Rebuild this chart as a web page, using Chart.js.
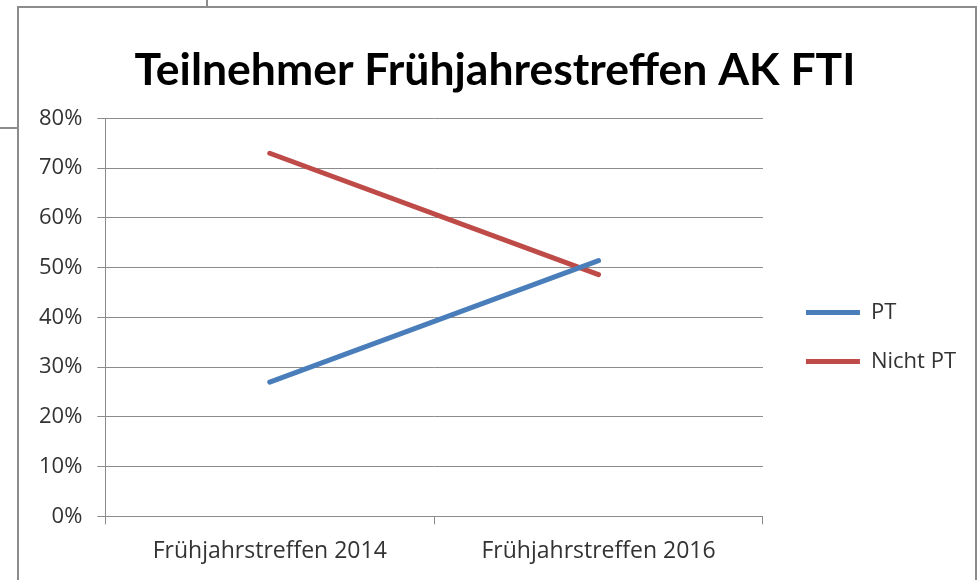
<!DOCTYPE html>
<html>
<head>
<meta charset="utf-8">
<script src="https://cdn.jsdelivr.net/npm/chart.js@4/dist/chart.umd.min.js"></script>
<style>
  html, body { margin: 0; padding: 0; background: #fff; }
  #wrap { position: relative; width: 978px; height: 580px; overflow: hidden; }
  #frame { position: absolute; left: 17px; top: 6px; width: 960px; height: 600px; border: 2px solid #8c8c8c; box-sizing: border-box; }
  #stubTop { position: absolute; left: 206px; top: 0; width: 2px; height: 7px; background: #8c8c8c; }
  #stubLeft { position: absolute; left: 0; top: 127px; width: 18px; height: 2px; background: #8c8c8c; }
  canvas { position: absolute; left: 0; top: 0; }
</style>
</head>
<body>
<div id="wrap">
  <div id="frame"></div>
  <div id="stubTop"></div>
  <div id="stubLeft"></div>
  <canvas id="chart" width="978" height="580"></canvas>
</div>
<script>
const categories = ["Frühjahrstreffen 2014", "Frühjahrstreffen 2016"];
const ptValues = [0.27, 0.514];
const nichtPtValues = [0.73, 0.486];
const seriesNames = ["PT", "Nicht PT"];

const gridColor = "#8c8c8c";
const textColor = "#333333";
const yFont = { family: "Open Sans", size: 22 };
const xFont = { family: "Open Sans", size: 23 };

const ctx = document.getElementById("chart").getContext("2d");

const chart = new Chart(ctx, {
  type: "line",
  data: {
    labels: categories,
    datasets: [
      {
        label: seriesNames[0],
        data: ptValues,
        borderColor: "#4a7ebb",
        backgroundColor: "#4a7ebb",
        borderWidth: 5,
        borderCapStyle: "round",
        pointRadius: 0,
        tension: 0,
      },
      {
        label: seriesNames[1],
        data: nichtPtValues,
        borderColor: "#be4b48",
        backgroundColor: "#be4b48",
        borderWidth: 5,
        borderCapStyle: "round",
        pointRadius: 0,
        tension: 0,
      },
    ],
  },
  options: {
    responsive: false,
    animation: false,
    layout: { padding: { left: 24, right: 12, top: 0, bottom: 2 } },
    plugins: {
      title: {
        display: true,
        text: "Teilnehmer Frühjahrestreffen AK FTI",
        color: "#000",
        font: { family: "Lato", size: 44.5, weight: "bold", lineHeight: 1.2 },
        padding: { top: 44, bottom: 21 },
      },
      legend: {
        position: "right",
        // empty legend title just pushes the items down a bit
        title: { display: true, text: "", font: { size: 10, lineHeight: 1 }, padding: { top: 86, bottom: 0 } },
        labels: {
          color: textColor,
          font: yFont,
          usePointStyle: true,
          pointStyle: "line",
          pointStyleWidth: 54,
          boxHeight: 22,
          padding: 27,
        },
      },
      tooltip: { enabled: false },
    },
    scales: {
      x: {
        offset: true,
        grid: {
          offset: true,
          drawOnChartArea: false,
          drawTicks: true,
          tickLength: 8,
          color: gridColor,
        },
        border: { color: gridColor },
        ticks: { color: textColor, font: xFont, padding: 13, maxRotation: 0 },
      },
      y: {
        min: 0,
        max: 0.8,
        ticks: {
          stepSize: 0.1,
          color: textColor,
          font: yFont,
          padding: 15,
          callback: (v) => Math.round(v * 100) + "%",
        },
        grid: { color: gridColor, tickLength: 8 },
        border: { color: gridColor },
      },
      // hidden spacer between plot area and legend
      gap: {
        position: "right",
        display: false,
        afterFit: (scale) => { scale.width = 16; },
      },
    },
  },
});
</script>
</body>
</html>
